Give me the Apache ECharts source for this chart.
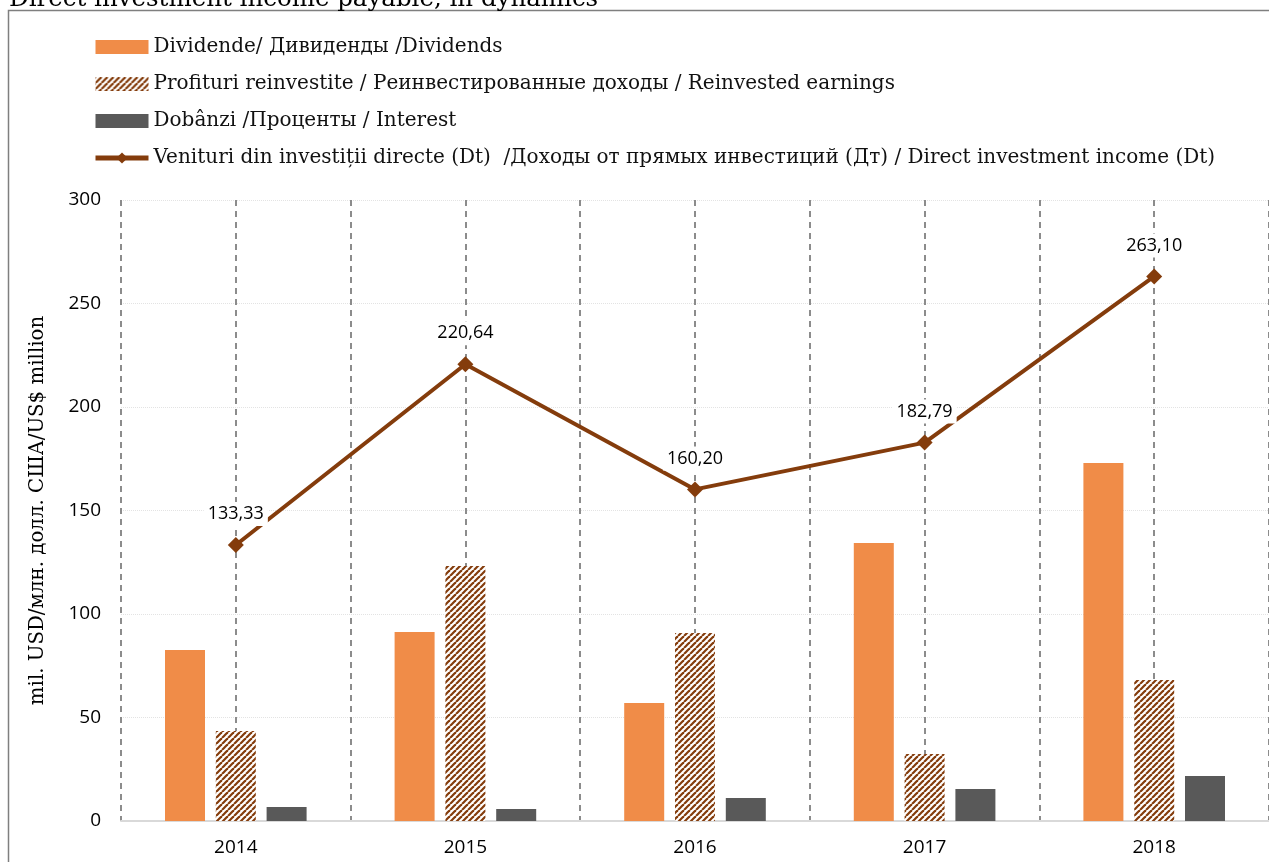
<!DOCTYPE html>
<html lang="ro">
<head>
    <meta charset="UTF-8">
    <title>Direct investment income payable, in dynamics</title>
    <script src="https://cdn.jsdelivr.net/npm/echarts@6/dist/echarts.min.js"></script>
    <style>
        body { margin: 0; padding: 0; background: #fff; }
        #chart { width: 1269px; height: 862px; }
    </style>
</head>
<body>
    <div id="chart"></div>
    <script>
        // date
        const years = ['2014', '2015', '2016', '2017', '2018'];
        const dividends = [82.6, 91.3, 57.0, 134.3, 173.0];
        const reinvested = [43.5, 123.2, 90.8, 32.4, 68.1];
        const interest = [6.8, 5.8, 11.1, 15.5, 21.7];
        const totalIncome = [133.33, 220.64, 160.20, 182.79, 263.10];
        const yTicks = [0, 50, 100, 150, 200, 250, 300];

        const names = [
            'Dividende/ Дивиденды /Dividends',
            'Profituri reinvestite / Реинвестированные доходы / Reinvested earnings',
            'Dobânzi /Проценты / Interest',
            'Venituri din investiții directe (Dt)  /Доходы от прямых инвестиций (Дт) / Direct investment income (Dt)'
        ];

        const brown = '#843C0C';
        const serif = '"DejaVu Serif", "Liberation Serif", serif';
        const sans = '"Open Sans", "Noto Sans", sans-serif';

        // hasura diagonala pentru profiturile reinvestite
        function makeHatch() {
            const c = document.createElement('canvas');
            c.width = 6; c.height = 6;
            const ctx = c.getContext('2d');
            ctx.fillStyle = '#fff';
            ctx.fillRect(0, 0, 6, 6);
            ctx.strokeStyle = brown;
            ctx.lineWidth = 2.2;
            [-6, 0, 6].forEach(o => {
                ctx.beginPath();
                ctx.moveTo(o, 6);
                ctx.lineTo(o + 6, 0);
                ctx.stroke();
            });
            return c;
        }
        const hatch = { image: makeHatch(), repeat: 'repeat' };

        const chart = echarts.init(document.getElementById('chart'));

        const option = {
            animation: false,
            title: {
                text: 'Direct investment income payable, in dynamics',
                left: 4,
                top: -18,
                textStyle: { fontFamily: serif, fontSize: 24.5, fontWeight: 'normal', color: '#000' }
            },
            graphic: [{
                type: 'rect',
                z: -1,
                shape: { x: 8.5, y: 10.5, width: 1400, height: 1000 },
                style: { fill: 'none', stroke: '#7f7f7f', lineWidth: 1.5 }
            }],
            legend: {
                orient: 'vertical',
                left: 93,
                top: 36,
                padding: 0,
                itemGap: 15,
                itemWidth: 53,
                itemHeight: 14,
                textStyle: { fontFamily: serif, fontSize: 20, lineHeight: 22, color: '#111' },
                data: [
                    { name: names[0], icon: 'rect' },
                    { name: names[1], icon: 'rect' },
                    { name: names[2], icon: 'rect' },
                    { name: names[3], lineStyle: { width: 5 } }
                ]
            },
            grid: { left: 121, top: 200, width: 1153, height: 621 },
            xAxis: [{
                type: 'category',
                data: years,
                axisLine: { lineStyle: { color: '#d9d9d9', width: 2 } },
                axisTick: { show: false },
                axisLabel: { fontFamily: sans, fontSize: 19, color: '#000', margin: 17 },
                splitLine: { show: false }
            }, {
                type: 'value',
                position: 'bottom',
                min: 0,
                max: 10,
                interval: 1,
                axisLine: { show: false },
                axisTick: { show: false },
                axisLabel: { show: false },
                splitLine: { show: true, lineStyle: { color: '#8c8c8c', width: 2, type: [6, 5] } }
            }],
            yAxis: {
                type: 'value',
                min: yTicks[0],
                max: yTicks[yTicks.length - 1],
                interval: 50,
                name: 'mil. USD/млн. долл. США/US$ million',
                nameLocation: 'middle',
                nameGap: 73,
                nameRotate: 90,
                nameTextStyle: { fontFamily: serif, fontSize: 19.8, color: '#000' },
                axisLine: { show: false },
                axisTick: { show: false },
                axisLabel: { fontFamily: sans, fontSize: 19, color: '#000', margin: 20 },
                splitLine: { lineStyle: { color: '#e3e3e3', width: 1, type: 'dotted' } }
            },
            series: [{
                name: names[0],
                type: 'bar',
                data: dividends,
                barWidth: 40,
                barGap: '27%',
                itemStyle: { color: '#F08C48' }
            }, {
                name: names[1],
                type: 'bar',
                data: reinvested,
                barWidth: 40,
                barGap: '27%',
                itemStyle: { color: hatch }
            }, {
                name: names[2],
                type: 'bar',
                data: interest,
                barWidth: 40,
                barGap: '27%',
                itemStyle: { color: '#595959' }
            }, {
                name: names[3],
                type: 'line',
                data: totalIncome,
                z: 5,
                symbol: 'diamond',
                symbolSize: 16,
                itemStyle: { color: brown },
                lineStyle: { color: brown, width: 4 },
                label: {
                    show: true,
                    position: 'top',
                    distance: 11,
                    fontFamily: sans,
                    fontSize: 18,
                    color: '#000',
                    backgroundColor: '#fff',
                    padding: [3, 4],
                    formatter: p => p.value.toFixed(2).replace('.', ',')
                }
            }]
        };

        chart.setOption(option);
    </script>
</body>
</html>
